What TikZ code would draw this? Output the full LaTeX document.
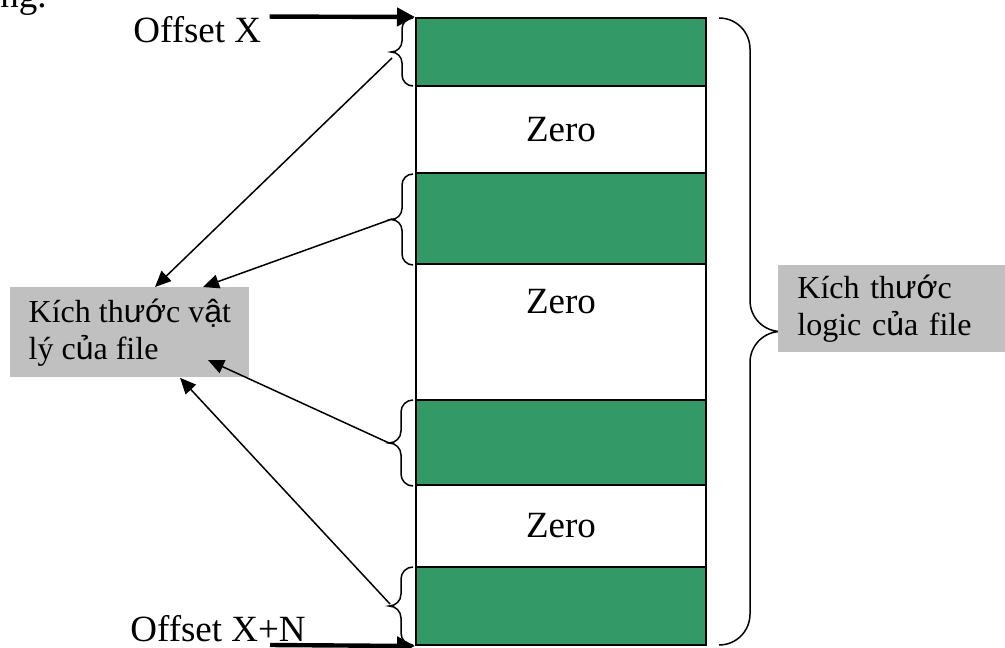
\documentclass[tikz,border=0pt]{standalone}
\usepackage{fontspec}
\setmainfont{Liberation Serif}
\newfontfamily\vnsans{Liberation Sans}
\usetikzlibrary{arrows.meta}

\definecolor{bandgreen}{HTML}{339966}
\definecolor{boxgray}{HTML}{C0C0C0}

\tikzset{
  band/.style={draw=black, line width=1pt, minimum width=145pt, inner sep=0pt},
  fullband/.style={band, fill=bandgreen},
  zeroband/.style={band, fill=white},
  bigtext/.style={font=\fontsize{18.5}{22}\selectfont, inner sep=0pt},
  sizebox/.style={fill=boxgray, font=\fontsize{16}{18.5}\selectfont, align=left},
  ptr/.style={-{Triangle[length=8pt,width=7pt]}, line width=0.75pt},
  offptr/.style={-{Triangle[length=9pt,width=9pt]}, line width=2.2pt},
  curly/.style={line width=0.75pt},
}

% rounded brace: #1 x of the ends, #2 top, #3 bottom, #4 width (negative = tip to the left)
\newcommand{\sizebrace}[4]{%
  \pgfmathsetmacro\bracex{#1+#4/2}\pgfmathsetmacro\bracetip{#1+#4}%
  \pgfmathsetmacro\bracemid{(#2+#3)/2}\pgfmathsetmacro\bracer{abs(#4)/2}%
  \draw[curly] (#1,#2) .. controls ({#1+#4*0.28},#2) and (\bracex,{#2+\bracer*0.45}) .. (\bracex,{#2+\bracer})
    -- (\bracex,{\bracemid-\bracer}) .. controls (\bracex,{\bracemid-\bracer*0.45}) and ({\bracex+#4*0.22},\bracemid) .. (\bracetip,\bracemid)
    .. controls ({\bracex+#4*0.22},\bracemid) and (\bracex,{\bracemid+\bracer*0.45}) .. (\bracex,{\bracemid+\bracer})
    -- (\bracex,{#3-\bracer}) .. controls (\bracex,{#3-\bracer*0.45}) and ({#1+#4*0.28},#3) .. (#1,#3);}

\begin{document}
\begin{tikzpicture}[x=0.5pt, y=-0.5pt]
\useasboundingbox (0,0) rectangle (1005,647);
\clip (0,0) rectangle (1005,647);

% the file as a column of bands
\foreach \n/\t/\b/\s in {g1/18/86/fullband, z1/86/173/zeroband, g2/173/264/fullband,
    z2/264/400/zeroband, g3/400/485/fullband, z3/485/567/zeroband, g4/567/645/fullband}
  \node[\s, minimum height={(\b-\t)*0.5pt}] (\n) at (561,{(\t+\b)/2}) {};

\node[bigtext] (zl1) at (z1) {Zero};
\node[bigtext] (zl2) at ([yshift=15pt]z2.center) {Zero};
\node[bigtext] (zl3) at (z3) {Zero};

% braces on the data bands
\sizebrace{413}{18}{86}{-22}
\sizebrace{413}{174}{265}{-22}
\sizebrace{413}{400}{486}{-24}
\sizebrace{413}{567}{645}{-24}
\coordinate (tg1) at (392,58);
\coordinate (tg2) at (392,219);
\coordinate (tg3) at (389,443);
\coordinate (tg4) at (390,604);
\sizebrace{719}{18}{645}{62}

% size boxes
\node[sizebox, minimum width=119.5pt, minimum height=45pt, anchor=north west] (phys)
  at (10,287) {Kích th{\vnsans ướ}c v{\vnsans ậ}t\\lý c{\vnsans ủ}a file};
\node[sizebox, text width=94.5pt, inner xsep=9.5pt, minimum height=43.5pt, anchor=north west] (logic)
  at (778,265) {Kích th{\vnsans ướ}c\\logic c{\vnsans ủ}a file};

\draw[ptr] (tg1) -- ([xshift=72.5pt]phys.north west);
\draw[ptr] (tg2) -- ([xshift=96.5pt]phys.north west);
\draw[ptr] (tg3) -- ([shift={(99pt,-36.5pt)}]phys.north west);
\draw[ptr] (tg4) -- ([xshift=85pt]phys.south west);

% offsets
\node[bigtext, anchor=base west] (prev) at (0,8) {ng.};
\node[bigtext, anchor=base west] (offx) at (133,43) {Offset X};
\node[bigtext, anchor=base west] (offxn) at (130,641) {Offset X+N};
\coordinate (nstart) at (270,645);
\draw[offptr] ([xshift=4pt]offx.north east) -- (g1.north west);
\draw[offptr] (nstart) -- (g4.south west);
\end{tikzpicture}
\end{document}
